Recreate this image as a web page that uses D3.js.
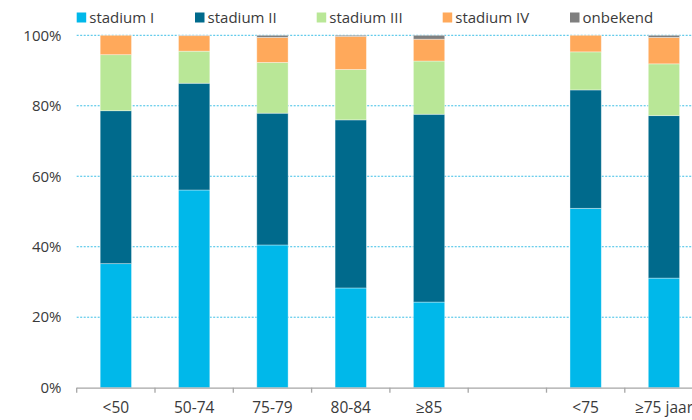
<!DOCTYPE html>
<html><head><meta charset="utf-8">
<script src="https://cdn.jsdelivr.net/npm/d3@7"></script>
<style>
html,body{margin:0;padding:0;background:#fff;}
svg{display:block;font-family:"Open Sans",Lato,sans-serif;}
</style></head>
<body><div id="chart"></div>
<script>
const categories = ["<50","50-74","75-79","80-84","≥85","","<75","≥75 jaar"];
const seriesNames = ["stadium I","stadium II","stadium III","stadium IV","onbekend"];
const stadiumI   = [35.2,56.1,40.5,28.3,24.3,0,50.9,31.1];
const stadiumII  = [43.4,30.3,37.4,47.7,53.3,0,33.6,46.1];
const stadiumIII = [15.9, 9.1,14.4,14.3,15.1,0,10.8,14.7];
const stadiumIV  = [ 5.5, 4.4, 7.1, 9.4, 6.2,0, 4.7, 7.5];
const onbekend   = [ 0.0, 0.1, 0.6, 0.3, 1.1,0, 0.0, 0.6];
const yTicks = [0,20,40,60,80,100];
const colors = ["#00b8ea","#006a8c","#b9e797","#ffa95b","#7f7f7f"];

const W = 692, H = 420;
const m = {left:76.7, top:35.3, bottom:32.3};
const svg = d3.select("#chart").append("svg").attr("width",W).attr("height",H);

const keys = categories.map((c,i)=> c === "" ? "gap" : c);
const x = d3.scaleBand().domain(keys).range([m.left, m.left + 8*78.3]).paddingInner(0.6).paddingOuter(0.3);
const y = d3.scaleLinear().domain([0,100]).range([H - m.bottom, m.top]);

const rows = keys.map((k,i)=>({key:k, "stadium I":stadiumI[i], "stadium II":stadiumII[i], "stadium III":stadiumIII[i], "stadium IV":stadiumIV[i], "onbekend":onbekend[i]}));
const stacked = d3.stack().keys(seriesNames)(rows);

// gridlines
svg.append("g").selectAll("line").data(yTicks.filter(t=>t>0)).join("line")
  .attr("x1", m.left).attr("x2", W)
  .attr("y1", d=>y(d)).attr("y2", d=>y(d))
  .attr("stroke","#3cbfe6").attr("stroke-width",1).attr("stroke-dasharray","2,1.5");

// y labels
svg.append("g").selectAll("text").data(yTicks).join("text")
  .attr("x", 61.5).attr("y", d=>y(d)).attr("dy","0.35em")
  .attr("text-anchor","end").attr("font-size",15).attr("fill","#3a3a3a")
  .text(d=>d+"%");

// bars
svg.append("g").selectAll("g").data(stacked).join("g")
  .attr("fill",(d,i)=>colors[i])
  .selectAll("rect").data(d=>d.filter(p=>p.data.key!=="gap" && p[1]-p[0]>0)).join("rect")
  .attr("x", d=>x(d.data.key)).attr("width", x.bandwidth())
  .attr("y", d=>y(d[1])).attr("height", d=>y(d[0])-y(d[1]))
  .attr("stroke","#ffffff").attr("stroke-opacity",0.45).attr("stroke-width",0.8);

// x axis line
const y0 = y(0);
svg.append("line").attr("x1", m.left).attr("x2", W).attr("y1", y0+0.5).attr("y2", y0+0.5)
  .attr("stroke","#a6a6a6").attr("stroke-width",1.3);
// ticks at band boundaries
const step = x.step();
const bounds = d3.range(keys.length+1).map(i=> m.left + i*step);
svg.append("g").selectAll("line").data(bounds).join("line")
  .attr("x1",d=>d).attr("x2",d=>d).attr("y1",y0).attr("y2",y0+5)
  .attr("stroke","#a6a6a6").attr("stroke-width",1.3);
// x labels
svg.append("g").selectAll("text").data(keys.map((k,i)=>({k, label:categories[i]}))).join("text")
  .attr("x", d=>x(d.k)+x.bandwidth()/2).attr("y", 408).attr("dy","0.35em")
  .attr("text-anchor","middle").attr("font-size",15.5).attr("fill","#3a3a3a")
  .text(d=>d.label);

// legend
const legX = [76.7, 195, 316.7, 442.7, 570];
const leg = svg.append("g").selectAll("g").data(seriesNames).join("g")
  .attr("transform",(d,i)=>`translate(${legX[i]},17.5)`);
leg.append("rect").attr("x",0).attr("y",-5).attr("width",9.5).attr("height",10).attr("fill",(d,i)=>colors[i]);
leg.append("text").attr("x",12.6).attr("y",0).attr("dy","0.35em").attr("font-size",15).attr("fill","#3a3a3a").text(d=>d);
</script></body></html>
